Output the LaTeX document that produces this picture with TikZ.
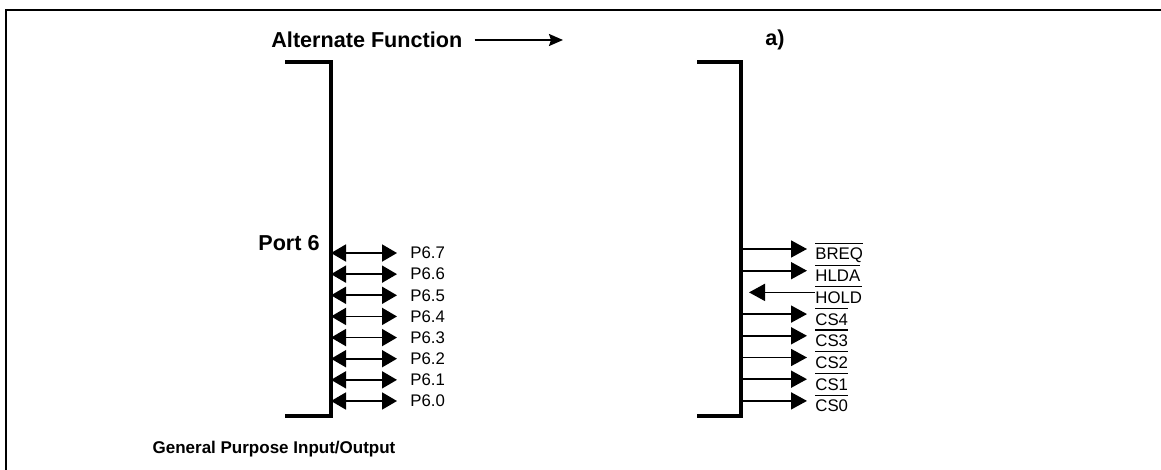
\documentclass[tikz,border=0pt]{standalone}
\usepackage{fontspec}
\setmainfont{Liberation Sans}
\usetikzlibrary{arrows.meta}
\tikzset{
 frame/.style={line width=1.1pt},
 bracket/.style={line width=1.6pt},
 pin/.style={line width=.9pt},
 bipin/.style={pin,{Triangle[length=7.5pt,width=8.5pt]}-{Triangle[length=7.5pt,width=8.5pt]}},
 outpin/.style={pin,-{Triangle[length=8pt,width=8.5pt]}},
 inpin/.style={pin,{Triangle[length=8pt,width=8.5pt]}-},
 pinlabel/.style={inner sep=0,font=\fontsize{8.4}{9}\selectfont},
 heading/.style={inner sep=0,font=\fontsize{10.8}{12}\selectfont\bfseries}
}
\newcommand{\barsig}[1]{\setbox0\hbox{#1}\rlap{\rule[\dimexpr\ht0+2.2pt\relax]{\wd0}{.6pt}}\box0}

\begin{document}
\begin{tikzpicture}[x=.5pt,y=-.5pt]
\path[use as bounding box] (0,0) rectangle (1161,470);
\draw[frame] (1161,10) -- (6,10) -- (6,470);
% headings
\node[heading,anchor=west] (alt) at (271,40) {Alternate Function};
\coordinate (altend) at (563,40);
\draw[pin,-{Stealth[length=7pt,width=6pt,inset=1pt]},shorten <=6pt] (alt.east) -- (altend);
\node[heading] (a) at (775,40) {a)};
\node[heading,anchor=east] (port) at (320,243) {Port 6};
\node[inner sep=0,font=\fontsize{8.5}{10}\selectfont\bfseries] (gpio) at (274,449) {General Purpose Input/Output};
% brackets
\coordinate (ltop) at (331,62);
\coordinate (lbot) at (331,416);
\draw[bracket] (285,62) -- (ltop) -- (lbot) -- (285,416);
\coordinate (rtop) at (741,62);
\coordinate (rbot) at (741,416);
\draw[bracket] (697,62) -- (rtop) -- (rbot) -- (697,416);
% port 6 pins
\foreach \i in {0,...,7}{
 \pgfmathsetmacro\y{401-21.14*\i}
 \coordinate (pl\i) at (331,\y);
 \node[pinlabel,anchor=west] (p\i) at (410,\y) {P6.\i};
 \draw[bipin,shorten >=6.5pt] (pl\i) -- (p\i.west);
}
% alternate function pins
\foreach \s/\d [count=\k from 0] in {BREQ/outpin,HLDA/outpin,HOLD/inpin,CS4/outpin,CS3/outpin,CS2/outpin,CS1/outpin,CS0/outpin}{
 \pgfmathsetmacro\y{249+21.7*\k}
 \coordinate (r\k) at (741,\y);
 \node[pinlabel,anchor=base west] (s\k) at (815,\y+11) {\barsig{\s}};
 \ifnum\k=2
  \draw[\d,shorten <=2pt] ([xshift=2pt]r\k) -- (s\k.west |- r\k);
 \else
  \draw[\d,shorten >=4pt] (r\k) -- (s\k.west |- r\k);
 \fi
}
\end{tikzpicture}
\end{document}
